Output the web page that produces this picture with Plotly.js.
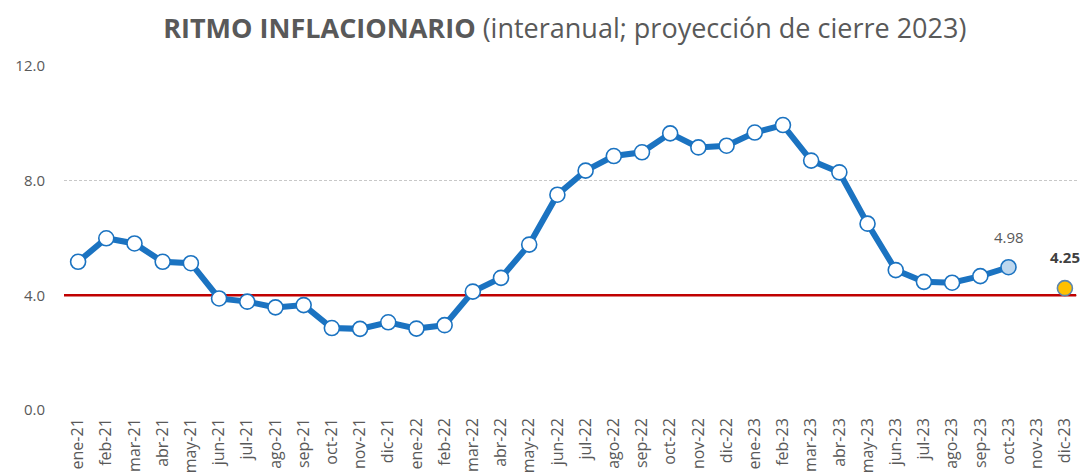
<!DOCTYPE html>
<html>
<head>
<meta charset="utf-8">
<script src="https://cdn.plot.ly/plotly-3.0.1.min.js"></script>
<style>html,body{margin:0;padding:0;background:#fff;overflow:hidden}#chart{width:1082px;height:473px}</style>
</head>
<body>
<div id="chart"></div>
<script>
const months = ["ene-21","feb-21","mar-21","abr-21","may-21","jun-21","jul-21","ago-21","sep-21","oct-21","nov-21","dic-21",
"ene-22","feb-22","mar-22","abr-22","may-22","jun-22","jul-22","ago-22","sep-22","oct-22","nov-22","dic-22",
"ene-23","feb-23","mar-23","abr-23","may-23","jun-23","jul-23","ago-23","sep-23","oct-23","nov-23","dic-23"];
const inflation = [5.17,5.99,5.81,5.17,5.12,3.89,3.78,3.58,3.66,2.86,2.83,3.06,
2.84,2.96,4.13,4.61,5.77,7.51,8.35,8.86,8.99,9.65,9.16,9.22,
9.68,9.94,8.70,8.29,6.50,4.88,4.47,4.44,4.67,4.98,null,null];
const projection = [null,null,null,null,null,null,null,null,null,null,null,null,
null,null,null,null,null,null,null,null,null,null,null,null,
null,null,null,null,null,null,null,null,null,null,null,4.25];
const target = 4.0;
const yTicks = [0,4,8,12];
const yTickLabels = ["0.0","4.0","8.0","12.0"];

const lastIdx = inflation.reduce((a,v,i)=> v!==null ? i : a, 0);
const projIdx = projection.findIndex(v=>v!==null);
const markerFill = inflation.map((v,i)=> i===lastIdx ? "#BDD7EE" : "#FFFFFF");

const FONT = "Open Sans, Noto Sans, sans-serif";
const data = [
  {x: months, y: inflation, type:"scatter", mode:"lines+markers", connectgaps:false,
   line:{color:"#1B73C1", width:6},
   marker:{size:15, color:markerFill, line:{color:"#1B73C1", width:1.6}},
   hoverinfo:"x+y"},
  {x: months, y: projection, type:"scatter", mode:"markers",
   marker:{size:15, color:"#FFC000", line:{color:"#5B86B0", width:1.6}},
   hoverinfo:"x+y"}
];

const layout = {
  width:1082, height:473,
  margin:{l:64, r:3, t:66, b:63},
  paper_bgcolor:"#fff", plot_bgcolor:"#fff",
  showlegend:false,
  title:{text:"<b>RITMO INFLACIONARIO</b> (interanual; proyección de cierre 2023)",
    font:{family:"Open Sans, sans-serif", size:27, color:"#595959"},
    x:0.522, xanchor:"center", y:0.94, yanchor:"middle"},
  xaxis:{type:"category", categoryorder:"array", categoryarray:months,
    range:[-0.5, months.length-0.5],
    tickangle:-90, tickfont:{family:FONT, size:16, color:"#595959"},
    ticklabelstandoff:4,
    showgrid:false, zeroline:false, showline:false, ticks:"", ticklen:0, automargin:false},
  yaxis:{range:[0,12], tickvals:yTicks, ticktext:yTickLabels,
    tickfont:{family:FONT, size:15, color:"#595959"},
    showgrid:true, gridcolor:"#C8C8C8", griddash:"3px,2px", gridwidth:1,
    zeroline:false, showline:false, ticks:"outside", ticklen:15, tickcolor:"rgba(0,0,0,0)", automargin:false},
  shapes:[{type:"line", xref:"x", x0:-0.5, x1:months.length-0.6, yref:"y", y0:target, y1:target,
    line:{color:"#C00000", width:2.5}, layer:"between"}],
  annotations:[
    {x: months[lastIdx], y: inflation[lastIdx], text: inflation[lastIdx].toFixed(2),
     showarrow:false, yshift:30, font:{family:FONT, size:15, color:"#595959"}},
    {x: months[projIdx], y: projection[projIdx], text: "<b>"+projection[projIdx].toFixed(2)+"</b>",
     showarrow:false, yshift:31, font:{family:FONT, size:15, color:"#404040"}}
  ]
};
Plotly.newPlot("chart", data, layout, {displayModeBar:false, staticPlot:true});
</script>
</body>
</html>
